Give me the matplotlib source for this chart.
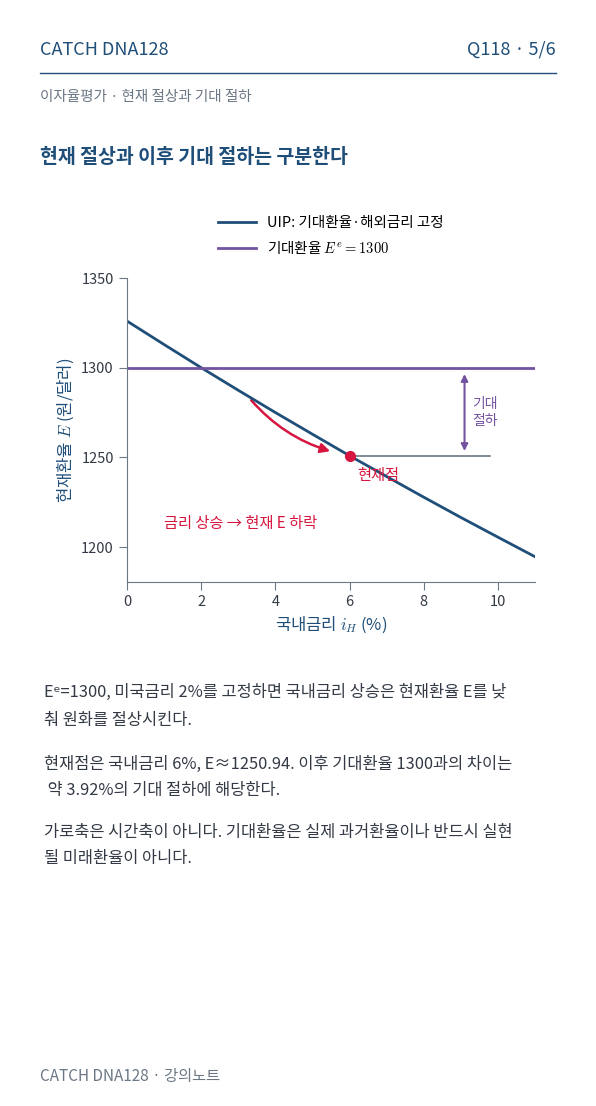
import numpy as np
import matplotlib
matplotlib.use("Agg")
import matplotlib.pyplot as plt
from matplotlib.patches import FancyArrowPatch

plt.rcParams['font.family'] = ['Noto Sans CJK KR', 'DejaVu Sans']
plt.rcParams['mathtext.fontset'] = 'cm'

rate = [0, 1, 2, 3, 4, 5, 6, 7, 8, 9, 10, 11]
uip_e = [1326.0, 1312.9, 1300.0, 1287.4, 1275.0, 1262.9, 1250.9, 1239.3, 1227.8, 1216.5, 1205.5, 1194.6]
expected_e = 1300
point_i, point_e = 6, 1250.94

navy = '#1f4e79'
purple = '#7352a0'
red = '#d6163f'
gray = '#6b7785'
text = '#333a45'

fig = plt.figure(figsize=(5.96, 11.06), dpi=100)
fig.text(40/596, 1-50/1106, 'CATCH DNA128', fontsize=13, color=navy, va='center')
fig.text(556/596, 1-50/1106, 'Q118 · 5/6', fontsize=13, color=navy, va='center', ha='right')
fig.add_artist(plt.Line2D([40/596, 556/596], [1-73/1106]*2, color=navy, lw=1))
fig.text(40/596, 1-97/1106, '이자율평가 · 현재 절상과 기대 절하', fontsize=10.5, color=gray, va='center')
fig.text(40/596, 1-157/1106, '현재 절상과 이후 기대 절하는 구분한다', fontsize=14, color=navy,
         va='center', fontweight='bold')

ax = fig.add_axes([127/596, 1-582/1106, 408/596, 304/1106])
l1, = ax.plot(rate, uip_e, color=navy, lw=2, label='UIP: 기대환율·해외금리 고정')
l2 = ax.axhline(expected_e, color=purple, lw=2, label=r'기대환율 $E^e = 1300$')
ax.plot([point_i, 9.8], [point_e, point_e], color=gray, lw=1.2)
ax.plot(point_i, point_e, 'o', color=red, ms=7, zorder=5)
ax.add_patch(FancyArrowPatch((3.3, 1283), (5.55, 1253), connectionstyle='arc3,rad=0.15',
                             arrowstyle='-|>', mutation_scale=14, color=red, lw=1.8))
ax.add_patch(FancyArrowPatch((9.1, 1252), (9.1, 1298), arrowstyle='<|-|>', mutation_scale=10,
                             color=purple, lw=1.5))
ax.text(9.3, 1275, '기대\n절하', color=purple, fontsize=10, va='center', linespacing=1.2)
ax.text(6.2, 1240, '현재점', color=red, fontsize=11, va='center')
ax.text(1, 1213, '금리 상승 → 현재 E 하락', color=red, fontsize=11, va='center')

ax.set_xlim(0, 11)
ax.set_ylim(1180.5, 1350)
ax.set_xticks([0, 2, 4, 6, 8, 10])
ax.set_yticks([1200, 1250, 1300, 1350])
for s in ['top', 'right']:
    ax.spines[s].set_visible(False)
for s in ['left', 'bottom']:
    ax.spines[s].set_color(gray)
ax.tick_params(colors=text, labelsize=10.5, direction='out', length=6, color=gray)
ax.set_xlabel(r'국내금리 $i_H$ (%)', color=navy, fontsize=12)
ax.set_ylabel(r'현재환율 $E$ (원/달러)', color=navy, fontsize=12)
ax.legend(handles=[l1, l2], loc='lower center', bbox_to_anchor=(0.5, 1.03), frameon=False,
          fontsize=10.5, handlelength=2.6)

body = [
    (692, 'Eᵉ=1300, 미국금리 2%를 고정하면 국내금리 상승은 현재환율 E를 낮'),
    (720, '춰 원화를 절상시킨다.'),
    (764, '현재점은 국내금리 6%, E≈1250.94. 이후 기대환율 1300과의 차이는'),
    (790, ' 약 3.92%의 기대 절하에 해당한다.'),
    (832, '가로축은 시간축이 아니다. 기대환율은 실제 과거환율이나 반드시 실현'),
    (858, '될 미래환율이 아니다.'),
]
for y, s in body:
    fig.text(44/596, 1-y/1106, s, fontsize=11.8, color=text, va='center')

fig.text(40/596, 1-1077/1106, 'CATCH DNA128 · 강의노트', fontsize=11, color=gray, va='center')
fig.savefig('out.png', dpi=100)
